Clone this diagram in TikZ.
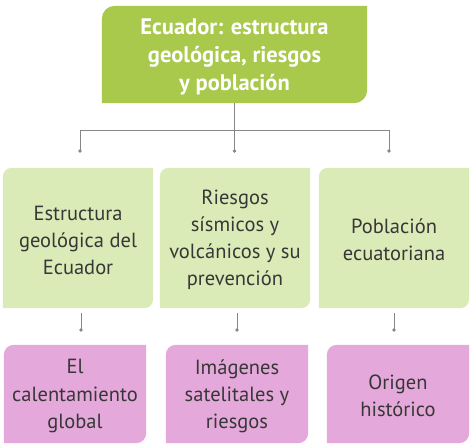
\documentclass[tikz,border=0pt]{standalone}
\usepackage{fontspec}
\setmainfont{PT Sans}
\usetikzlibrary{backgrounds}
\definecolor{titlegreen}{RGB}{169,201,76}
\definecolor{palegreen}{RGB}{219,235,184}
\definecolor{leafpink}{RGB}{229,168,218}
\definecolor{textgray}{RGB}{55,55,55}
\definecolor{linkgray}{RGB}{135,135,135}

\begin{document}
\begin{tikzpicture}[x=1pt,y=1pt,
    every node/.style={align=center,inner sep=0pt,text=textgray,
      font=\fontsize{20.5}{27}\selectfont},
    topic/.style={minimum width=150pt,minimum height=140pt},
    leaf/.style={minimum width=142pt,minimum height=98pt},
    link/.style={draw=linkgray,line width=0.8pt}]
    \useasboundingbox (0,0) rectangle (473,446);

    \node[minimum width=265pt,minimum height=97pt,text=white,
      font=\bfseries\fontsize{22.5}{28}\selectfont] at (234.5,389.5) (title)
      {Ecuador: estructura\\geológica, riesgos\\y población};

    \node[topic] at (78,206) (t1) {Estructura\\geológica del\\Ecuador};
    \node[topic] at (235,206) (t2) {Riesgos\\sísmicos y\\volcánicos y su\\prevención};
    \node[topic] at (394,206) (t3) {Población\\ecuatoriana};

    \node[leaf] at (75,50) (l1) {El\\calentamiento\\global};
    \node[leaf] at (237,50) (l2) {Imágenes\\satelitales y\\riesgos};
    \node[leaf] at (398,50) (l3) {Origen\\histórico};

    % box fills, rounded top left and bottom right only
    \begin{scope}[on background layer]
      \foreach \n/\c/\r in {title/titlegreen/13pt,t1/palegreen/9pt,t2/palegreen/9pt,
        t3/palegreen/9pt,l1/leafpink/10pt,l2/leafpink/10pt,l3/leafpink/10pt} {
        \fill[\c] ([yshift=2pt]\n.south west) -- ([yshift=-\r+2pt]\n.north west)
          arc[start angle=180,end angle=90,radius=\r] -- ([yshift=2pt]\n.north east)
          -- ([yshift=\r+2pt]\n.south east) arc[start angle=0,end angle=-90,radius=\r] -- cycle;
      }
    \end{scope}

    % connectors
    \coordinate (c1) at (80,295);
    \coordinate (c2) at (234.5,295);
    \coordinate (c3) at (389,295);
    \draw[link] ([yshift=2pt]title.south) -- (c2);
    \draw[link] (c1) -- (80,316) -- (389,316) -- (c3);
    \coordinate (d1) at (81,116);
    \coordinate (d2) at (237,116);
    \coordinate (d3) at (394,116);
    \foreach \i in {1,2,3} {
      \draw[link] ([yshift=-3pt]t\i.south -| d\i) -- (d\i);
    }
    \foreach \p in {c1,c2,c3,d1,d2,d3} {
      \fill[linkgray] (\p) circle (1.8pt);
    }
\end{tikzpicture}
\end{document}
